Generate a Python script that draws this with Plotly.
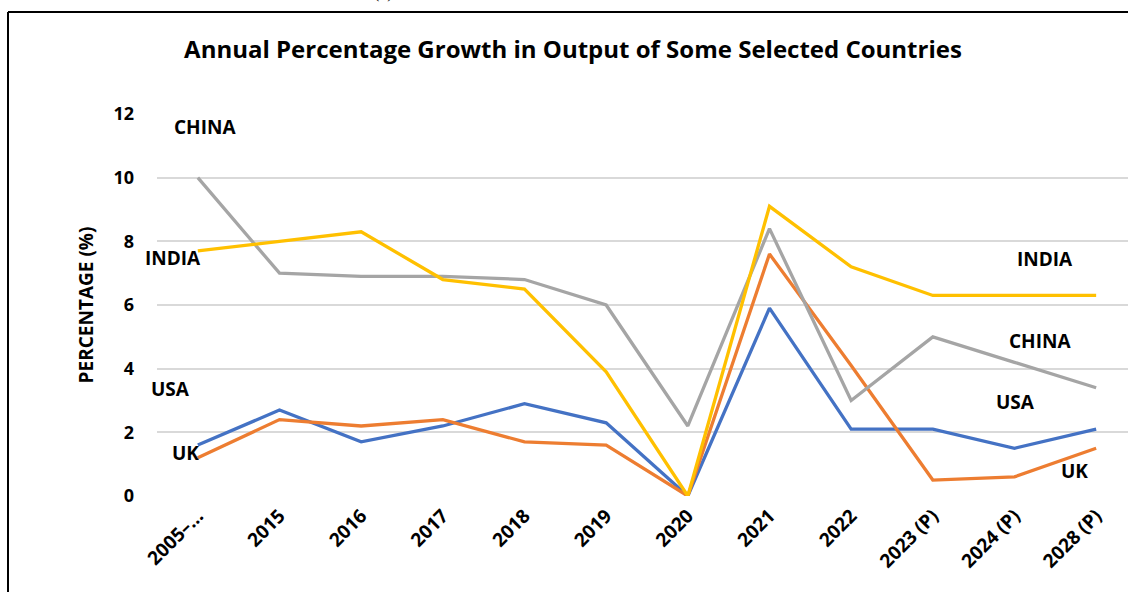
import plotly.graph_objects as go

categories = ["2005–…", "2015", "2016", "2017", "2018", "2019", "2020", "2021", "2022",
              "2023 (P)", "2024 (P)", "2028 (P)"]
usa = [1.6, 2.7, 1.7, 2.2, 2.9, 2.3, 0.0, 5.9, 2.1, 2.1, 1.5, 2.1]
uk = [1.2, 2.4, 2.2, 2.4, 1.7, 1.6, 0.0, 7.6, 4.1, 0.5, 0.6, 1.5]
china = [10.0, 7.0, 6.9, 6.9, 6.8, 6.0, 2.2, 8.4, 3.0, 5.0, 4.2, 3.4]
india = [7.7, 8.0, 8.3, 6.8, 6.5, 3.9, 0.0, 9.1, 7.2, 6.3, 6.3, 6.3]
y_ticks = [0, 2, 4, 6, 8, 10, 12]

FONT = "Open Sans"
W, H = 1128, 592
ML, MR, MT, MB = 157, 0, 114, 96

fig = go.Figure()
series = [("USA", usa, "#4472C4"), ("UK", uk, "#ED7D31"),
          ("CHINA", china, "#A5A5A5"), ("INDIA", india, "#FFC000")]
for name, vals, col in series:
    fig.add_trace(go.Scatter(x=categories, y=vals, mode="lines", name=name,
                             line=dict(color=col, width=3.3), showlegend=False))

labels = [
    ("CHINA", 0.09, 11.6), ("INDIA", -0.31, 7.48), ("USA", -0.34, 3.36), ("UK", -0.15, 1.35),
    ("INDIA", 10.37, 7.45), ("CHINA", 10.31, 4.87), ("USA", 10.01, 2.95), ("UK", 10.73, 0.79),
]
anns = []
for t, xv, yv in labels:
    anns.append(dict(text=t, x=xv, y=yv, xref="x", yref="y", showarrow=False,
                     font=dict(family=FONT, size=19, color="black", weight="bold")))

pw = W - ML - MR
ph = H - MT - MB
def px_x(p):
    return (p - ML) / pw
def px_y(p):
    return (H - MB - p) / ph

anns.append(dict(text="(x)", x=px_x(372), y=px_y(4), xref="paper", yref="paper",
                 showarrow=False, yanchor="bottom",
                 font=dict(family="Liberation Serif", size=16, color="black")))

shapes = [
    dict(type="line", xref="paper", yref="paper", x0=px_x(8), x1=px_x(1140),
         y0=px_y(12), y1=px_y(12), line=dict(color="black", width=2)),
    dict(type="line", xref="paper", yref="paper", x0=px_x(8), x1=px_x(8),
         y0=px_y(12), y1=px_y(600), line=dict(color="black", width=2)),
]

fig.update_layout(
    width=W, height=H,
    margin=dict(l=ML, r=MR, t=MT, b=MB),
    paper_bgcolor="white", plot_bgcolor="white",
    title=dict(text="<b>Annual Percentage Growth in Output of Some Selected Countries</b>",
               x=px_x(573), xref="paper", xanchor="center",
               y=1 - 50 / H, yanchor="middle",
               font=dict(family=FONT, size=24, color="black")),
    annotations=anns,
    shapes=shapes,
    xaxis=dict(type="category", range=[-0.5, 11.39], showgrid=False, zeroline=False,
               showline=False, ticks="", tickangle=-45, ticklabelstandoff=4,
               tickfont=dict(family=FONT, size=19, color="black", weight="bold")),
    yaxis=dict(range=[0, 12], tickvals=y_ticks, showgrid=True, gridcolor="#D9D9D9",
               gridwidth=1.5, zeroline=False, showline=False, ticks="",
               ticklabelstandoff=22,
               tickfont=dict(family=FONT, size=18, color="black", weight="bold"),
               title=dict(text="PERCENTAGE (%)", standoff=14,
                          font=dict(family=FONT, size=19, color="black", weight="bold"))),
)
fig.update_traces(cliponaxis=False)
fig.write_html("out.html", config={"displayModeBar": False},
               post_script="document.body.style.margin='0';")
